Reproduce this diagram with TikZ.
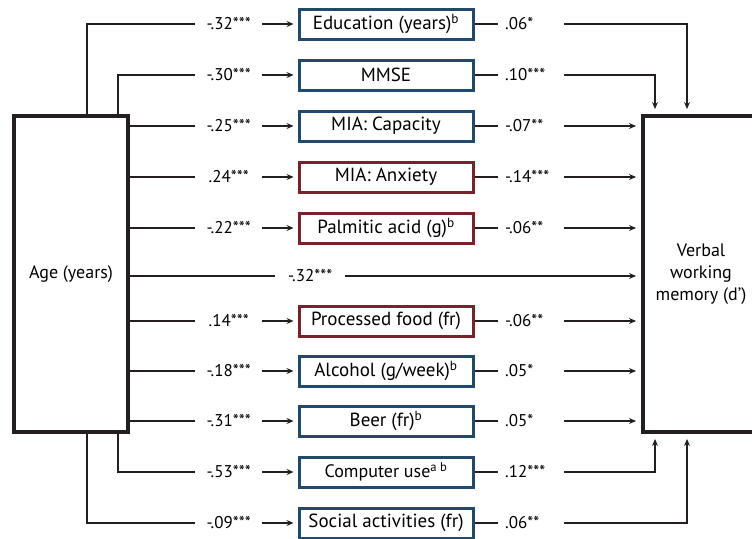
\documentclass[tikz,border=0pt]{standalone}
\usepackage{fontspec}
\setmainfont{PT Sans}
\usetikzlibrary{positioning}
\usetikzlibrary{arrows.meta}
\definecolor{boxblue}{HTML}{1F4A6E}
\definecolor{boxred}{HTML}{7E1F2C}
\definecolor{ink}{HTML}{231F20}

\begin{document}
\begin{tikzpicture}[
            x = 1pt, y = -1pt,
            font = \fontsize{17pt}{22pt}\selectfont,
            var/.style = {
                draw = ink,
                line width = 4pt,
                minimum width = #1,
                minimum height = 316pt,
                align = center,
                inner sep = 0pt,
                font = \fontsize{18pt}{22pt}\selectfont
            },
            var/.default = 114pt,
            med/.style = {
                draw = #1,
                line width = 3pt,
                minimum width = 174pt,
                minimum height = 30pt,
                inner sep = 0pt,
                font = \fontsize{19pt}{22pt}\selectfont
            },
            med/.default = boxblue,
            coefL/.style = {anchor = west, text width = 59pt, align = center, inner sep = 4pt},
            coefR/.style = {anchor = west, text width = 52pt, align = left, inner sep = 7pt},
            link/.style = {draw = ink, line width = 1.5pt},
            arr/.style = {link, -{Stealth[length = 7pt, width = 6pt, inset = 2.5pt]}, shorten > = 4pt}
            ]
            \useasboundingbox (0,0) rectangle (752,538);
            \clip (0,0) rectangle (752,538);

            % outcome and predictor
            \node[var] (age) at (71,274) {Age (years)};
            \node[var = 116pt] (wm) at (701,274) {Verbal\\working\\memory (d’)};

            % mediators
            \node[med] (edu) at (386,24) {Education (years)\textsuperscript{b}};
            \node[med] (mmse) at (386,75) {MMSE};
            \node[med] (cap) at (386,126) {MIA: Capacity};
            \node[med = boxred] (anx) at (386,177) {MIA: Anxiety};
            \node[med = boxred] (palm) at (386,228) {Palmitic acid (g)\textsuperscript{b}};
            \node[med = boxred] (proc) at (386,321) {Processed food (fr)};
            \node[med] (alc) at (386,371) {Alcohol (g/week)\textsuperscript{b}};
            \node[med] (beer) at (386,421) {Beer (fr)\textsuperscript{b}};
            \node[med, font = \fontsize{18pt}{22pt}\selectfont] (comp) at (386,472) {Computer use\textsuperscript{a b}};
            \node[med] (soc) at (386,523) {Social activities (fr)};

            % age -> mediator coefficients
            \node[coefL] (eduL) at (195,24) {-.32***};
            \node[coefL] (mmseL) at (195,75) {-.30***};
            \node[coefL] (capL) at (195,126) {-.25***};
            \node[coefL] (anxL) at (195,177) {.24***};
            \node[coefL] (palmL) at (195,228) {-.22***};
            \node[coefL, text width = 62pt] (dirL) at (275,276) {-.32***};
            \node[coefL] (procL) at (195,321) {.14***};
            \node[coefL] (alcL) at (195,371) {-.18***};
            \node[coefL] (beerL) at (195,421) {-.31***};
            \node[coefL] (compL) at (195,472) {-.53***};
            \node[coefL] (socL) at (195,523) {-.09***};

            % mediator -> memory coefficients
            \node[coefR] (eduR) at (498,24) {.06*};
            \node[coefR] (mmseR) at (498,75) {.10***};
            \node[coefR] (capR) at (498,126) {-.07**};
            \node[coefR] (anxR) at (498,177) {-.14***};
            \node[coefR] (palmR) at (498,228) {-.06**};
            \node[coefR] (procR) at (498,321) {-.06**};
            \node[coefR] (alcR) at (498,371) {.05*};
            \node[coefR] (beerR) at (498,421) {.05*};
            \node[coefR] (compR) at (498,472) {.12***};
            \node[coefR] (socR) at (498,523) {.06**};

            % left side
            \draw[link] ([xshift=16pt]age.north) |- (eduL.west);
            \draw[link] ([xshift=47pt]age.north) |- (mmseL.west);
            \draw[link] (age.east |- capL) -- (capL.west);
            \draw[link] (age.east |- anxL) -- (anxL.west);
            \draw[link] (age.east |- palmL) -- (palmL.west);
            \draw[link] (age.east |- dirL) -- (dirL.west);
            \draw[link] (age.east |- procL) -- (procL.west);
            \draw[link] (age.east |- alcL) -- (alcL.west);
            \draw[link] (age.east |- beerL) -- (beerL.west);
            \draw[link] ([xshift=47pt]age.south) |- (compL.west);
            \draw[link] ([xshift=16pt]age.south) |- (socL.west);

            \draw[arr] (eduL.east) -- (edu.west);
            \draw[arr] (mmseL.east) -- (mmse.west);
            \draw[arr] (capL.east) -- (cap.west);
            \draw[arr] (anxL.east) -- (anx.west);
            \draw[arr] (palmL.east) -- (palm.west);
            \draw[arr] (procL.east) -- (proc.west);
            \draw[arr] (alcL.east) -- (alc.west);
            \draw[arr] (beerL.east) -- (beer.west);
            \draw[arr] (compL.east) -- (comp.west);
            \draw[arr] (socL.east) -- (soc.west);

            % right side
            \draw[link] (edu.east) -- (eduR.west);
            \draw[link] (mmse.east) -- (mmseR.west);
            \draw[link] (cap.east) -- (capR.west);
            \draw[link] (anx.east) -- (anxR.west);
            \draw[link] (palm.east) -- (palmR.west);
            \draw[link] (proc.east) -- (procR.west);
            \draw[link] (alc.east) -- (alcR.west);
            \draw[link] (beer.east) -- (beerR.west);
            \draw[link] (comp.east) -- (compR.west);
            \draw[link] (soc.east) -- (socR.west);

            \draw[arr, shorten > = 5pt] (eduR.east) -| ([xshift=-14pt]wm.north);
            \draw[arr, shorten > = 5pt] (mmseR.east) -| ([xshift=-46pt]wm.north);
            \draw[arr, shorten > = 5pt] (capR.east) -- (wm.west |- capR);
            \draw[arr, shorten > = 5pt] (anxR.east) -- (wm.west |- anxR);
            \draw[arr, shorten > = 5pt] (palmR.east) -- (wm.west |- palmR);
            \draw[arr, shorten > = 5pt] (dirL.east) -- (wm.west |- dirL);
            \draw[arr, shorten > = 5pt] (procR.east) -- (wm.west |- procR);
            \draw[arr, shorten > = 5pt] (alcR.east) -- (wm.west |- alcR);
            \draw[arr, shorten > = 5pt] (beerR.east) -- (wm.west |- beerR);
            \draw[arr, shorten > = 5pt] (compR.east) -| ([xshift=-46pt]wm.south);
            \draw[arr, shorten > = 5pt] (socR.east) -| ([xshift=-14pt]wm.south);
\end{tikzpicture}
\end{document}
